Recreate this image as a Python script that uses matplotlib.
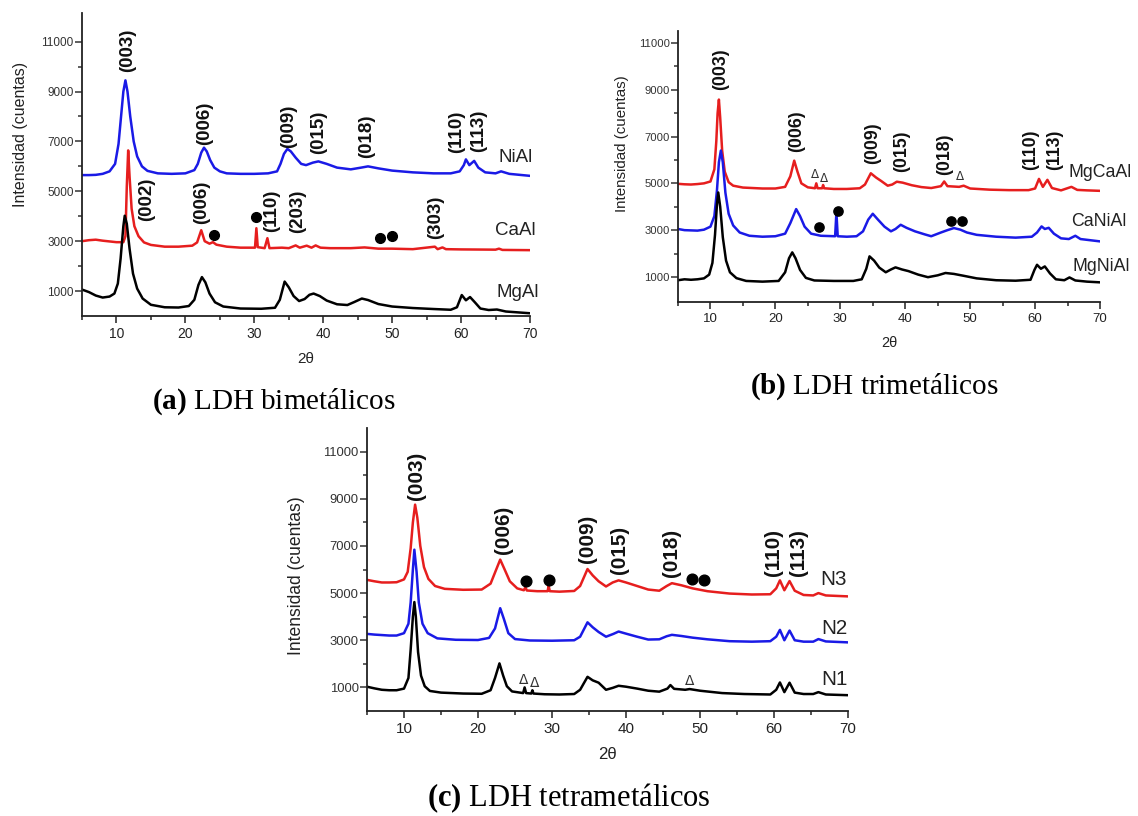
import numpy as np
import matplotlib
matplotlib.use("Agg")
import matplotlib.pyplot as plt
from matplotlib.ticker import FixedLocator

plt.rcParams['font.family'] = ['Liberation Sans', 'DejaVu Sans']
plt.rcParams['mathtext.fontset'] = 'custom'
plt.rcParams['mathtext.rm'] = 'Liberation Serif'
plt.rcParams['mathtext.bf'] = 'Liberation Serif:bold'

RED = '#e61e1e'
BLUE = '#1a1ae6'
BLACK = '#000000'

# ---------------- data (2theta, counts) ----------------
# (a) bimetallic
nial = [(5, 5650), (6, 5650), (7, 5660), (8, 5700), (9, 5800), (9.8, 6100), (10.3, 6900),
        (10.7, 8100), (11.0, 9000), (11.3, 9450), (11.6, 9000), (12.0, 8000), (12.5, 7000),
        (13.0, 6400), (13.7, 6000), (14.5, 5820), (16, 5720), (18, 5700), (20, 5720),
        (21.3, 5850), (21.8, 6100), (22.3, 6550), (22.7, 6750), (23.1, 6600), (23.6, 6250),
        (24.2, 5950), (25.0, 5800), (26, 5720), (28, 5700), (30, 5700), (32, 5720), (33.3, 5800),
        (33.8, 6100), (34.3, 6500), (34.8, 6700), (35.3, 6600), (36.0, 6350), (36.8, 6100),
        (37.5, 6050), (38.5, 6150), (39.3, 6200), (40.5, 6100), (42, 5950), (44, 5880),
        (45.5, 5950), (46.5, 6000), (48, 5920), (50, 5830), (53, 5760), (56, 5720), (58.5, 5720),
        (59.8, 5800), (60.4, 6050), (60.7, 6280), (61.2, 6050), (61.9, 6220), (62.5, 5950),
        (63.5, 5760), (65, 5720), (65.8, 5800), (67, 5700), (70, 5620)]
caal = [(5, 3000), (6, 3040), (7, 3060), (8, 3020), (9, 2990), (10, 2960), (11.0, 2960),
        (11.3, 3200), (11.5, 5200), (11.7, 6640), (11.9, 5600), (12.2, 4300), (12.6, 3600),
        (13.2, 3200), (14, 2950), (15, 2850), (17, 2780), (19, 2780), (21, 2820), (21.7, 2950),
        (22.3, 3440), (22.8, 3000), (23.5, 2900), (24.0, 2960), (24.5, 2860), (26, 2780),
        (28, 2740), (30.1, 2740), (30.3, 3520), (30.5, 2760), (31.5, 2720), (31.9, 3120),
        (32.2, 2720), (34, 2740), (35, 2720), (36, 2830), (36.6, 2740), (37.6, 2820), (38.3, 2740),
        (38.9, 2830), (39.6, 2740), (41, 2720), (44, 2720), (46, 2750), (48, 2700), (50, 2700),
        (53, 2680), (56.2, 2780), (56.6, 2680), (57.3, 2750), (57.8, 2680), (60, 2670),
        (65, 2660), (65.5, 2700), (66, 2650), (70, 2640)]
mgal = [(5, 1060), (6, 960), (7, 820), (8, 740), (9, 780), (9.7, 900), (10.2, 1300), (10.6, 2300),
        (11.0, 3600), (11.2, 4020), (11.5, 3700), (11.9, 2700), (12.4, 1700), (13.0, 1100),
        (13.8, 700), (15, 450), (17, 350), (19, 340), (20.5, 400), (21.3, 650), (21.9, 1250),
        (22.4, 1560), (22.9, 1350), (23.5, 900), (24.3, 550), (25.5, 380), (28, 300), (31, 290),
        (33.0, 330), (33.7, 650), (34.4, 1380), (35.0, 1150), (35.7, 800), (36.5, 600),
        (37.3, 680), (38.0, 850), (38.6, 900), (39.5, 800), (40.5, 620), (42, 470), (43.5, 440),
        (44.5, 560), (45.6, 700), (46.5, 640), (48, 480), (50, 380), (53, 320), (56, 280),
        (58.5, 250), (59.4, 350), (60.1, 840), (60.7, 630), (61.3, 760), (62.0, 550), (62.8, 300),
        (64, 240), (65.2, 260), (66.5, 180), (68, 150), (70, 110)]

# (b) trimetallic
mgcaal = [(5, 4980), (6, 4960), (7, 4950), (8, 4970), (9, 5000), (10, 5080), (10.6, 5600),
          (10.9, 6800), (11.1, 8000), (11.3, 8580), (11.5, 7800), (11.8, 6400), (12.2, 5500),
          (12.8, 5050), (13.5, 4900), (15, 4820), (18, 4780), (20, 4780), (21.5, 4850),
          (22.3, 5300), (22.9, 5970), (23.4, 5500), (24, 5000), (25, 4830), (26.1, 4790),
          (26.3, 5000), (26.5, 4790), (27.2, 4790), (27.35, 4930), (27.5, 4790), (29, 4760),
          (31, 4760), (33, 4790), (33.8, 4950), (34.7, 5430), (35.5, 5250), (36.3, 5100),
          (37.3, 4900), (38.0, 4950), (38.7, 5070), (39.6, 5030), (41, 4920), (42.5, 4840),
          (44, 4800), (45.5, 4880), (46.0, 5080), (46.5, 4880), (48.3, 4850), (49, 4900),
          (50, 4780), (53, 4730), (56, 4710), (59, 4710), (60.0, 4780), (60.6, 5190), (61.2, 4850),
          (61.9, 5150), (62.6, 4800), (64, 4700), (65.6, 4850), (66.5, 4720), (68, 4700), (70, 4680)]
canial = [(5, 3050), (6, 3000), (7, 2990), (8, 2980), (9, 3020), (10, 3150), (10.6, 3600),
          (11.0, 4700), (11.3, 5900), (11.6, 6400), (11.9, 5900), (12.3, 4600), (12.8, 3700),
          (13.5, 3200), (14.5, 2900), (16, 2760), (18, 2720), (20, 2740), (21.5, 2850),
          (22.3, 3300), (23.2, 3900), (23.8, 3600), (24.5, 3150), (25.5, 2850), (27, 2760),
          (29.2, 2740), (29.4, 3760), (29.6, 2740), (31, 2720), (32.5, 2740), (33.5, 2950),
          (34.3, 3450), (35.0, 3700), (35.8, 3450), (36.8, 3150), (37.8, 2950), (38.5, 3050),
          (39.3, 3230), (40.2, 3100), (41.5, 2950), (43, 2820), (44, 2740), (45.5, 2900),
          (46.5, 3000), (47.5, 3090), (48.5, 3020), (49.5, 2900), (51, 2800), (54, 2720),
          (57, 2680), (59.5, 2720), (60.3, 2900), (61.0, 3160), (61.5, 3050), (62.1, 3100),
          (62.9, 2850), (64, 2650), (65.2, 2620), (66.2, 2760), (67, 2620), (70, 2520)]
mgnial = [(5, 860), (6, 900), (7, 880), (8, 900), (9, 940), (9.8, 1100), (10.3, 1600),
          (10.7, 2800), (11.0, 4100), (11.2, 4610), (11.5, 4000), (11.9, 2700), (12.4, 1700),
          (13.0, 1200), (14, 950), (15.5, 830), (18, 800), (20.5, 830), (21.5, 1200), (22.1, 1800),
          (22.6, 2050), (23.1, 1800), (23.8, 1300), (24.7, 960), (26, 850), (29, 830), (32, 830),
          (33.3, 900), (34.0, 1350), (34.5, 1880), (35.2, 1700), (36.0, 1400), (37.0, 1200),
          (37.8, 1320), (38.5, 1410), (39.5, 1320), (40.5, 1250), (42, 1100), (43.5, 990),
          (45, 1070), (46.2, 1170), (47.5, 1130), (49, 1050), (51, 940), (54, 860), (57, 840),
          (59.3, 880), (59.9, 1300), (60.3, 1520), (60.9, 1350), (61.5, 1450), (62.3, 1150),
          (63.2, 900), (64.5, 860), (65.3, 980), (66.2, 850), (68, 800), (70, 770)]

# (c) tetrametallic
n3 = [(5, 5560), (6, 5500), (7, 5450), (8, 5450), (9, 5460), (10, 5580), (10.5, 5900),
      (10.9, 6900), (11.2, 8000), (11.5, 8750), (11.8, 8200), (12.2, 7000), (12.7, 6100),
      (13.3, 5600), (14.2, 5300), (15.5, 5180), (18, 5140), (20.5, 5150), (21.7, 5400),
      (22.4, 5950), (23.0, 6420), (23.6, 6000), (24.3, 5500), (25.3, 5200), (26.2, 5120),
      (26.4, 5250), (26.6, 5110), (28, 5080), (29.4, 5080), (29.55, 5300), (29.7, 5080),
      (31, 5060), (33, 5090), (33.8, 5300), (34.8, 6020), (35.5, 5750), (36.3, 5500),
      (37.3, 5280), (38.2, 5450), (39.0, 5540), (40, 5450), (41.5, 5300), (43, 5150),
      (44.5, 5100), (45.5, 5300), (46.2, 5420), (47.5, 5330), (49, 5200), (51, 5080), (54, 4980),
      (57, 4940), (59.5, 4950), (60.3, 5200), (60.8, 5540), (61.4, 5120), (62.1, 5510),
      (62.8, 5100), (64, 4920), (65.3, 4900), (66.0, 5000), (67, 4900), (70, 4860)]
n2 = [(5, 3270), (6, 3240), (7, 3220), (8, 3200), (9, 3200), (10, 3300), (10.6, 3700),
      (10.9, 4600), (11.2, 6000), (11.4, 6840), (11.7, 5900), (12.0, 4600), (12.5, 3700),
      (13.2, 3300), (14.5, 3080), (17, 3020), (20, 3010), (21.5, 3100), (22.3, 3500),
      (23.0, 4360), (23.5, 3900), (24.1, 3300), (25, 3050), (27, 2990), (30, 2980), (33, 3000),
      (33.8, 3150), (34.8, 3760), (35.5, 3550), (36.3, 3350), (37.3, 3150), (38.3, 3270),
      (39.0, 3370), (40, 3280), (41.5, 3150), (43, 3030), (44.5, 3040), (45.5, 3170),
      (46.2, 3230), (47.5, 3180), (49, 3110), (51, 3040), (54, 2960), (57, 2940), (59.5, 2960),
      (60.3, 3150), (60.8, 3440), (61.4, 3000), (62.1, 3410), (62.8, 3000), (64, 2940),
      (65.3, 2940), (66.0, 3050), (67, 2950), (70, 2910)]
n1 = [(5, 1030), (6, 960), (7, 900), (8, 880), (9, 880), (10, 950), (10.6, 1400), (10.9, 2600),
      (11.2, 4000), (11.4, 4620), (11.6, 4000), (11.9, 2500), (12.3, 1500), (12.8, 1050),
      (13.5, 850), (15, 780), (18, 740), (20.5, 730), (21.7, 880), (22.3, 1400), (22.9, 2020),
      (23.4, 1500), (23.9, 1050), (24.6, 830), (26.1, 760), (26.3, 1000), (26.5, 760),
      (27.2, 740), (27.35, 880), (27.5, 740), (29, 710), (31, 700), (33, 720), (33.8, 900),
      (34.8, 1450), (35.5, 1300), (36.3, 1200), (37.3, 900), (38.2, 980), (39.0, 1070),
      (40, 1030), (41.5, 950), (43, 860), (44.5, 820), (45.6, 950), (46.0, 1100), (46.5, 940),
      (48, 900), (48.6, 930), (50, 860), (53, 760), (56, 720), (59.5, 700), (60.3, 900),
      (60.8, 1210), (61.4, 800), (62.1, 1200), (62.8, 780), (64, 720), (65.3, 720), (66.0, 800),
      (67, 700), (70, 670)]

# reflection labels: (text, 2theta, counts)
hkl_a = [("(003)", 11.6, 10640), ("(006)", 22.8, 7710), ("(009)", 35.0, 7600), ("(015)", 39.4, 7375),
         ("(018)", 46.3, 7200), ("(110)", 59.4, 7400), ("(113)", 62.5, 7440),
         ("(002)", 14.4, 4660), ("(006)", 22.4, 4560), ("(110)", 32.5, 4220), ("(203)", 36.3, 4190),
         ("(303)", 56.3, 3950)]
hkl_b = [("(003)", 11.6, 9880), ("(006)", 23.3, 7250), ("(009)", 35.0, 6710), ("(015)", 39.5, 6355),
         ("(018)", 46.0, 6255), ("(110)", 59.3, 6430), ("(113)", 63.0, 6430)]
hkl_c = [("(003)", 11.7, 9960), ("(006)", 23.5, 7700), ("(009)", 34.8, 7310), ("(015)", 39.1, 6840),
         ("(018)", 46.2, 6700), ("(110)", 59.9, 6700), ("(113)", 63.3, 6700)]

names_a = [("NiAl", 65.4, 6340), ("CaAl", 64.9, 3420), ("MgAl", 65.1, 930)]
names_b = [("MgCaAl", 65.2, 5460), ("CaNiAl", 65.5, 3370), ("MgNiAl", 65.7, 1455)]
names_c = [("N3", 66.2, 5570), ("N2", 66.4, 3480), ("N1", 66.4, 1340)]

dots_a = [(24.1, 3240), (30.3, 3980), (48.3, 3120), (50.0, 3190)]
dots_b = [(26.7, 3116), (29.6, 3800), (47.1, 3400), (48.8, 3400)]
dots_c = [(26.5, 5500), (29.6, 5540), (48.9, 5610), (50.6, 5570)]

deltas_b = [(26.1, 5360), (27.5, 5220), (48.4, 5290)]
deltas_c = [(26.2, 1310), (27.6, 1200), (48.6, 1280)]

yticks = [1000, 3000, 5000, 7000, 9000, 11000]
yminor = [2000, 4000, 6000, 8000, 10000]
xticks = [10, 20, 30, 40, 50, 60, 70]
xminor = [5, 15, 25, 35, 45, 55, 65]

W, H = 1138, 816
fig = plt.figure(figsize=(W / 100, H / 100), dpi=100)


def px_rect(x0, y0, x1, y1):
    return [x0 / W, 1 - y1 / H, (x1 - x0) / W, (y1 - y0) / H]


def panel(rect, ylim, curves, hkl, names, dots, deltas, s, ylab_xy, caption, cap_xy, cap_size):
    ax = fig.add_axes(rect)
    for pts, c in curves:
        arr = np.array(pts, dtype=float)
        ax.plot(arr[:, 0], arr[:, 1], color=c, lw=1.8, solid_joinstyle='round')
    ax.set_xlim(5, 70)
    ax.set_ylim(*ylim)
    for sp in ['top', 'right']:
        ax.spines[sp].set_visible(False)
    for sp in ['left', 'bottom']:
        ax.spines[sp].set_linewidth(1.3)
        ax.spines[sp].set_color('#222222')
    ax.yaxis.set_major_locator(FixedLocator(yticks))
    ax.yaxis.set_minor_locator(FixedLocator(yminor))
    ax.xaxis.set_major_locator(FixedLocator(xticks))
    ax.xaxis.set_minor_locator(FixedLocator(xminor))
    ax.tick_params(axis='y', which='major', direction='out', length=5, width=1.1,
                   labelsize=8.5 * s, colors='#333333', pad=1)
    ax.tick_params(axis='y', which='minor', direction='out', length=3, width=1.1, colors='#333333')
    ax.tick_params(axis='x', which='major', direction='out', length=5, width=1.1,
                   labelsize=10 * s, colors='#222222', pad=3)
    ax.tick_params(axis='x', which='minor', direction='out', length=3, width=1.1, colors='#222222')
    ax.set_xlabel('2θ', fontsize=11 * s, color='#222222', labelpad=8)
    ax.text(ylab_xy[0], ylab_xy[1], 'Intensidad (cuentas)', transform=ax.transAxes,
            rotation=90, ha='center', va='center', fontsize=11.5 * s, color='#222222')
    for t, x, y in hkl:
        ax.text(x, y, t, rotation=90, ha='center', va='center', fontsize=13.5 * s,
                fontweight='bold', color='#111111')
    for t, x, y in names:
        ax.text(x, y, t, ha='left', va='center', fontsize=13.5 * s, color='#222222')
    if dots:
        d = np.array(dots, dtype=float)
        ax.plot(d[:, 0], d[:, 1], 'o', color='black', ms=7 * s, clip_on=False)
    for x, y in deltas:
        ax.text(x, y, 'Δ', ha='center', va='center', fontsize=9 * s, color='#333333',
                family=['DejaVu Sans'])
    fig.text(cap_xy[0] / W, 1 - cap_xy[1] / H, caption, ha='center', va='center',
             fontsize=cap_size, family=['Liberation Serif'], color='black')
    return ax


panel(px_rect(82, 13, 530, 316), (0, 12150),
      [(nial, BLUE), (caal, RED), (mgal, BLACK)], hkl_a, names_a, dots_a, [], 1.0,
      (-0.138, 0.60), r'$\mathbf{(a)}$ LDH bimetálicos', (274, 402), 21)
panel(px_rect(678, 31, 1100, 302), (-70, 11510),
      [(mgcaal, RED), (canial, BLUE), (mgnial, BLACK)], hkl_b, names_b, dots_b, deltas_b, 0.95,
      (-0.133, 0.583), r'$\mathbf{(b)}$ LDH trimetálicos', (874, 387), 21)
panel(px_rect(367, 428, 848, 711), (0, 12000),
      [(n3, RED), (n2, BLUE), (n1, BLACK)], hkl_c, names_c, dots_c, deltas_c, 1.1,
      (-0.146, 0.477), r'$\mathbf{(c)}$ LDH tetrametálicos', (569, 798), 22)

fig.savefig('out.png', dpi=100)
